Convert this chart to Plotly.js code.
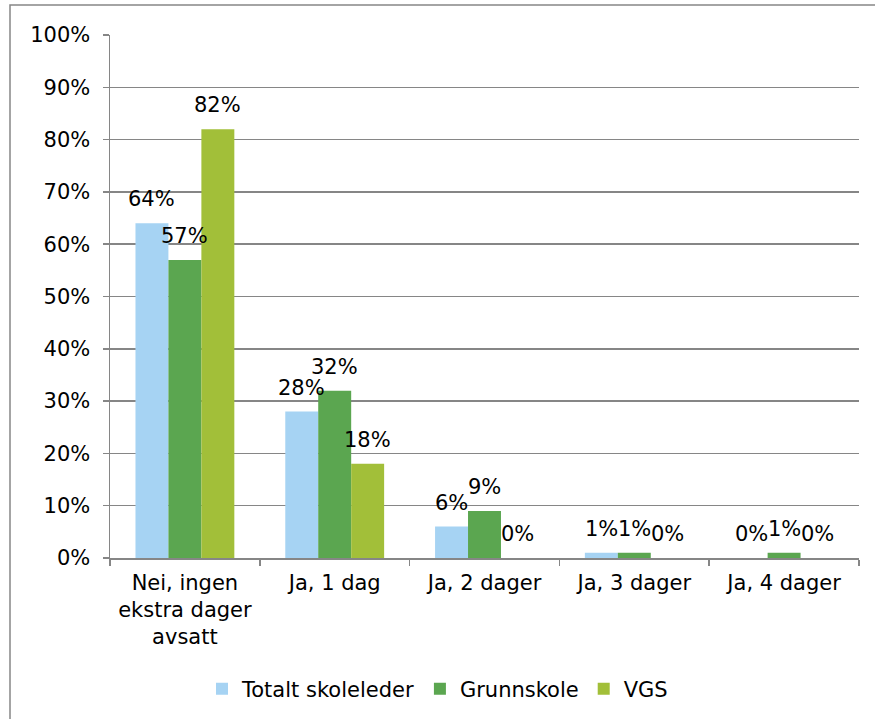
<!DOCTYPE html>
<html>
<head>
<meta charset="utf-8">
<script src="https://cdn.plot.ly/plotly-3.0.1.min.js"></script>
<style>html,body{margin:0;padding:0;background:#fff;}#chart{width:875px;height:719px;}</style>
</head>
<body>
<div id="chart"></div>
<script>
const categories = ["Nei, ingen<br>ekstra dager<br>avsatt", "Ja, 1 dag", "Ja, 2 dager", "Ja, 3 dager", "Ja, 4 dager"];
const seriesNames = ["Totalt skoleleder", "Grunnskole", "VGS"];
const totalt = [0.64, 0.28, 0.06, 0.01, 0.00];
const grunnskole = [0.57, 0.32, 0.09, 0.01, 0.01];
const vgs = [0.82, 0.18, 0.00, 0.00, 0.00];
const yTickVals = [0, 0.1, 0.2, 0.3, 0.4, 0.5, 0.6, 0.7, 0.8, 0.9, 1.0];

const colors = ["#A6D3F3", "#5BA650", "#A2BF39"];
const font = {family: "DejaVu Sans, Verdana, sans-serif", size: 21, color: "#000"};
const values = [totalt, grunnskole, vgs];

const pw = 749, ph = 523, L = 110, T = 35;
const bargap = 0.34;
const barPx = (pw / categories.length) * (1 - bargap) / values.length;

const traces = values.map((v, i) => ({
  type: "bar",
  name: seriesNames[i],
  x: categories,
  y: v,
  marker: {color: colors[i], line: {width: 0}},
  hoverinfo: "skip"
}));

const annotations = [];
values.forEach((v, i) => {
  v.forEach((val, j) => {
    annotations.push({
      x: categories[j], y: val, xref: "x", yref: "y",
      text: Math.round(val * 100) + "%",
      showarrow: false,
      xanchor: "center", yanchor: "middle",
      xshift: (i - (values.length - 1) / 2) * barPx,
      yshift: 24,
      font: font
    });
  });
});

const layout = {
  width: 875, height: 719,
  margin: {l: L, r: 16, t: T, b: 161, pad: 0},
  paper_bgcolor: "#fff", plot_bgcolor: "#fff",
  font: font,
  barmode: "group",
  bargap: bargap,
  bargroupgap: 0,
  showlegend: true,
  legend: {
    orientation: "h",
    xref: "container", yref: "container",
    x: 0.5, xanchor: "center",
    y: 1 - 689/719, yanchor: "middle",
    font: font,
    itemwidth: 30,
    tracegroupgap: 0
  },
  xaxis: {
    type: "category",
    tickson: "boundaries",
    ticks: "outside", ticklen: 6, tickcolor: "#868686", tickwidth: 1.5,
    showline: true, linecolor: "#868686", linewidth: 1.5,
    showgrid: false,
    tickfont: font,
    ticklabelstandoff: 5,
    automargin: false
  },
  yaxis: {
    range: [0, 1],
    tickvals: yTickVals,
    tickformat: ".0%",
    ticks: "outside", ticklen: 6, tickcolor: "#868686", tickwidth: 1.5,
    showline: true, linecolor: "#868686", linewidth: 1.5,
    showgrid: true, gridcolor: "#868686", gridwidth: 1.5,
    zeroline: false,
    tickfont: font,
    ticklabelstandoff: 8,
    automargin: false
  },
  annotations: annotations,
  shapes: [{
    type: "rect", xref: "paper", yref: "paper",
    x0: (10 - L) / pw, x1: (880 - L) / pw,
    y0: (T + ph - 5) / ph, y1: (T + ph - 725) / ph,
    line: {color: "#868686", width: 1.5},
    fillcolor: "rgba(0,0,0,0)"
  }]
};

Plotly.newPlot("chart", traces, layout, {displayModeBar: false, staticPlot: true});
</script>
</body>
</html>
